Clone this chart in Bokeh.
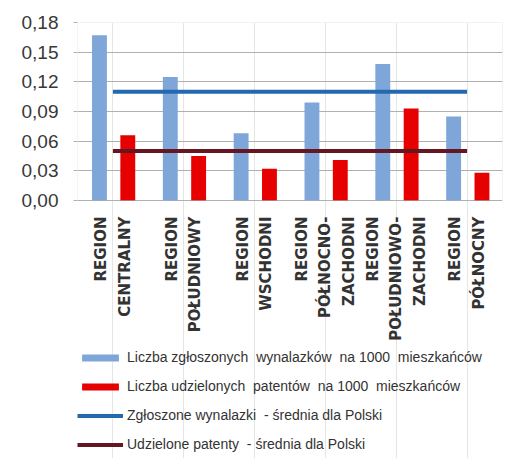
import math
from bokeh.plotting import figure
from bokeh.models import (Legend, LegendItem, FixedTicker, ColumnDataSource,
                          BoxAnnotation, Range1d)
from bokeh.transform import dodge
from bokeh.core.properties import value
from bokeh.embed import file_html
from bokeh.resources import INLINE

regions = ["REGION\nCENTRALNY", "REGION\nPOŁUDNIOWY", "REGION\nWSCHODNI",
           "REGION\nPÓŁNOCNO-\nZACHODNI", "REGION\nPOŁUDNIOWO-\nZACHODNI", "REGION\nPÓŁNOCNY"]
zgloszone = [0.167, 0.125, 0.068, 0.099, 0.138, 0.085]
udzielone = [0.066, 0.045, 0.032, 0.041, 0.093, 0.028]
avg_zgloszone = 0.110
avg_udzielone = 0.050
y_ticks = [0.0, 0.03, 0.06, 0.09, 0.12, 0.15, 0.18]
y_tick_labels = ["0,00", "0,03", "0,06", "0,09", "0,12", "0,15", "0,18"]
legend_labels = ["Liczba zgłoszonych  wynalazków  na 1000  mieszkańców",
                 "Liczba udzielonych  patentów  na 1000  mieszkańców",
                 "Zgłoszone wynalazki  - średnia dla Polski",
                 "Udzielone patenty  - średnia dla Polski"]

# layout constants (the frame extends below the value axis to hold labels and legend)
Y_MIN = -0.2609
LABEL_Y = -0.0162
GRID = "#B0B0B0"
BLUE_BAR, RED_BAR, BLUE_LINE, RED_LINE = "#7EA6D8", "#E60000", "#2469AE", "#661620"

src = ColumnDataSource(dict(cat=regions, z=zgloszone, u=udzielone))

p = figure(x_range=regions, y_range=Range1d(Y_MIN, 0.18), frame_width=425, frame_height=436,
           output_backend="svg", toolbar_location=None, x_axis_location=None,
           min_border_left=77, min_border_right=16, min_border_top=22, min_border_bottom=0)
p.x_range.range_padding = 0
p.outline_line_color = None

p.ygrid.grid_line_color = GRID
p.ygrid.ticker = FixedTicker(ticks=y_ticks)
p.add_layout(BoxAnnotation(bottom=0, top=0.18, fill_alpha=0, line_color=GRID, line_width=1.2))

r1 = p.vbar(x=dodge("cat", -0.19, range=p.x_range), top="z", bottom=0, width=0.21, source=src,
            fill_color=BLUE_BAR, line_color=None)
r2 = p.vbar(x=dodge("cat", 0.21, range=p.x_range), top="u", bottom=0, width=0.21, source=src,
            fill_color=RED_BAR, line_color=None)
r3 = p.line(x=[regions[0], regions[-1]], y=[avg_zgloszone, avg_zgloszone],
            line_color=BLUE_LINE, line_width=4)
r4 = p.line(x=[regions[0], regions[-1]], y=[avg_udzielone, avg_udzielone],
            line_color=RED_LINE, line_width=4)

# category labels (rotated, reading bottom-to-top)
p.text(x="cat", y=LABEL_Y, text="cat", source=src, angle=math.pi / 2,
       text_align="right", text_baseline="middle",
       text_font=value("DejaVu Sans"), text_font_style="bold", text_font_size="15px",
       text_line_height=1.3, text_color="#333333")

p.yaxis.ticker = FixedTicker(ticks=y_ticks)
p.yaxis.major_label_overrides = {t: l for t, l in zip(y_ticks, y_tick_labels)}
p.yaxis.axis_line_color = None
p.yaxis.major_tick_line_color = GRID
p.yaxis.major_tick_out = 4
p.yaxis.major_tick_in = 0
p.yaxis.minor_tick_line_color = None
p.yaxis.major_label_standoff = 15
p.yaxis.major_label_text_font = "Liberation Sans"
p.yaxis.major_label_text_font_size = "19px"
p.yaxis.major_label_text_color = "#383838"

legend = Legend(items=[LegendItem(label=legend_labels[0], renderers=[r1]),
                       LegendItem(label=legend_labels[1], renderers=[r2]),
                       LegendItem(label=legend_labels[2], renderers=[r3]),
                       LegendItem(label=legend_labels[3], renderers=[r4])],
                location=(0, 4), orientation="vertical",
                border_line_color=None, background_fill_alpha=0,
                glyph_width=46, glyph_height=9, label_height=20, spacing=9,
                label_standoff=4, padding=0, margin=0,
                label_text_font="Liberation Sans", label_text_font_size="14px",
                label_text_color="#333333")
p.add_layout(legend, "center")

open("out.html", "w").write(file_html(p, INLINE))
